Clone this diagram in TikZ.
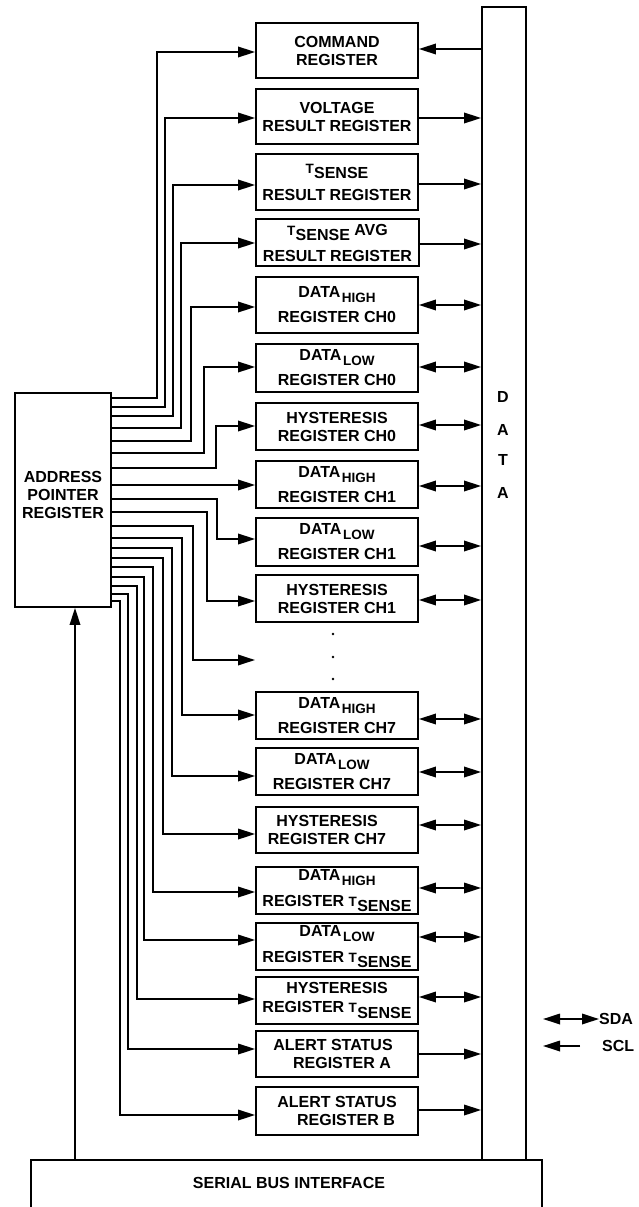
\documentclass[tikz,border=0pt]{standalone}
\usepackage{fontspec}
\setmainfont{Liberation Sans}
\usetikzlibrary{arrows.meta}
\newcommand{\lowsub}[1]{\kern1.5pt\raisebox{-5pt}{\fontsize{13.5}{13.5}\selectfont #1}}
\newcommand{\tsense}{{\fontsize{13.5}{13.5}\selectfont T}\kern0.3pt\raisebox{-5.5pt}{SENSE}}
\begin{document}
\begin{tikzpicture}[x=1pt,y=-1pt,
  every node/.style={font=\fontsize{16}{18}\selectfont\bfseries, inner sep=0pt},
  reg/.style={draw, line width=1.8pt, minimum width=162pt, align=center},
  blk/.style={draw, line width=1.8pt},
  wire/.style={line width=1.8pt},
  arr/.style={wire, -{Triangle[length=17pt,width=10.5pt]}},
  darr/.style={wire, {Triangle[length=17pt,width=10.5pt]}-{Triangle[length=17pt,width=10.5pt]}},
  dotn/.style={circle, fill, minimum size=2.8pt}
]
\useasboundingbox (0,0) rectangle (639,1207);
\clip (0,0) rectangle (639,1207);

% registers
\node[reg, minimum height=55pt] (cmd) at (337,50.5) {COMMAND\\REGISTER};
\node[reg, minimum height=55pt] (volt) at (337,116.5) {VOLTAGE\\RESULT REGISTER};
\node[reg, minimum height=56pt] (ts) at (337,182) {\tsense\\[9pt]RESULT REGISTER};
\node[reg, minimum height=47pt, minimum width=163pt] (avg) at (337.5,242.5) {\tsense{} AVG\\[8pt]RESULT REGISTER};
\node[reg, minimum height=56pt] (dh0) at (337,305) {DATA\lowsub{HIGH}\\[7pt]REGISTER CH0};
\node[reg, minimum height=48pt] (dl0) at (337,368) {DATA\lowsub{LOW}\\[7pt]REGISTER CH0};
\node[reg, minimum height=47pt] (hy0) at (337,426.5) {HYSTERESIS\\REGISTER CH0};
\node[reg, minimum height=47pt] (dh1) at (337,484.5) {DATA\lowsub{HIGH}\\[7pt]REGISTER CH1};
\node[reg, minimum height=48pt] (dl1) at (337,542) {DATA\lowsub{LOW}\\[7pt]REGISTER CH1};
\node[reg, minimum height=47pt] (hy1) at (337,598.5) {HYSTERESIS\\REGISTER CH1};
\node[reg, minimum height=47pt] (dh7) at (337,715.5) {DATA\lowsub{HIGH}\\[7pt]REGISTER CH7};
\node[reg, minimum height=47pt] (dl7) at (337,771.5) {DATA\lowsub{LOW}\hspace*{10pt}\\[7pt]REGISTER CH7\hspace*{10pt}};
\node[reg, minimum height=46pt] (hy7) at (337,830) {HYSTERESIS\hspace*{20pt}\\REGISTER CH7\hspace*{20pt}};
\node[reg, minimum height=47pt] (dhts) at (337,890.5) {DATA\lowsub{HIGH}\\[8pt]REGISTER \tsense};
\node[reg, minimum height=47pt] (dlts) at (337,946.5) {DATA\lowsub{LOW}\\[8pt]REGISTER \tsense};
\node[reg, minimum height=47pt] (hyts) at (337,1000.5) {HYSTERESIS\\[1pt]REGISTER \tsense};
\node[reg, minimum height=46pt] (ala) at (337,1054) {\hspace*{-8pt}ALERT STATUS\\\hspace*{10pt}REGISTER A};
\node[reg, minimum height=48pt] (alb) at (337,1111) {ALERT STATUS\\\hspace*{18pt}REGISTER B};

% dots
\node[dotn] (dot1) at (333,634) {};
\node[dotn] (dot2) at (333,657) {};
\node[dotn] (dot3) at (333,679) {};
\coordinate (dotend) at (255,660);

% address pointer register
\node[blk, minimum width=96pt, minimum height=214pt, align=center] (apr) at (63,500) {ADDRESS\\POINTER\\REGISTER\\[-8pt]};

% data bus
\node[blk, minimum width=44pt, minimum height=1153pt] (bus) at (504,583.5) {};
\node (bd1) at (503,397) {D};
\node (bd2) at (503,430) {A};
\node (bd3) at (503,460) {T};
\node (bd4) at (503,493) {A};

% serial bus interface
\node[blk, minimum width=511pt, minimum height=80pt] (sbi) at (286.5,1200) {};
\node (sbit) at (289,1183) {SERIAL BUS INTERFACE};
\draw[arr] (sbi.north -| 75,0) -- (apr.south -| 75,0);

% address pointer outputs
\draw[arr] (apr.east |- 0,398) -| (157,52) -- (cmd.west |- 0,52);
\draw[arr] (apr.east |- 0,407) -| (165,118) -- (volt.west |- 0,118);
\draw[arr] (apr.east |- 0,416) -| (173,185) -- (ts.west |- 0,185);
\draw[arr] (apr.east |- 0,428) -| (181,243) -- (avg.west |- 0,243);
\draw[arr] (apr.east |- 0,441) -| (191,307) -- (dh0.west |- 0,307);
\draw[arr] (apr.east |- 0,453) -| (204,367) -- (dl0.west |- 0,367);
\draw[arr] (apr.east |- 0,468) -| (216,426) -- (hy0.west |- 0,426);
\draw[arr] (apr.east |- 0,485) -- (dh1.west |- 0,485);
\draw[arr] (apr.east |- 0,499) -| (217,539) -- (dl1.west |- 0,539);
\draw[arr] (apr.east |- 0,512) -| (207,601) -- (hy1.west |- 0,601);
\draw[arr] (apr.east |- 0,526) -| (193,660) -- (dotend);
\draw[arr] (apr.east |- 0,538) -| (182,715) -- (dh7.west |- 0,715);
\draw[arr] (apr.east |- 0,548) -| (172,776) -- (dl7.west |- 0,776);
\draw[arr] (apr.east |- 0,558) -| (163,834) -- (hy7.west |- 0,834);
\draw[arr] (apr.east |- 0,567) -| (153,892) -- (dhts.west |- 0,892);
\draw[arr] (apr.east |- 0,577) -| (144,940) -- (dlts.west |- 0,940);
\draw[arr] (apr.east |- 0,586) -| (137,999) -- (hyts.west |- 0,999);
\draw[arr] (apr.east |- 0,594) -| (128,1049) -- (ala.west |- 0,1049);
\draw[arr] (apr.east |- 0,601) -| (120,1115) -- (alb.west |- 0,1115);

% data bus connections
\draw[arr] (bus.west |- 0,49) -- (cmd.east |- 0,49);
\draw[arr] (volt.east |- 0,118) -- (bus.west |- 0,118);
\draw[arr] (ts.east |- 0,184) -- (bus.west |- 0,184);
\draw[arr] (avg.east |- 0,244) -- (bus.west |- 0,244);
\draw[darr] (dh0.east |- 0,305) -- (bus.west |- 0,305);
\draw[darr] (dl0.east |- 0,367) -- (bus.west |- 0,367);
\draw[darr] (hy0.east |- 0,425) -- (bus.west |- 0,425);
\draw[darr] (dh1.east |- 0,486) -- (bus.west |- 0,486);
\draw[darr] (dl1.east |- 0,546) -- (bus.west |- 0,546);
\draw[darr] (hy1.east |- 0,600) -- (bus.west |- 0,600);
\draw[darr] (dh7.east |- 0,719) -- (bus.west |- 0,719);
\draw[darr] (dl7.east |- 0,772) -- (bus.west |- 0,772);
\draw[darr] (hy7.east |- 0,825) -- (bus.west |- 0,825);
\draw[darr] (dhts.east |- 0,888) -- (bus.west |- 0,888);
\draw[darr] (dlts.east |- 0,937) -- (bus.west |- 0,937);
\draw[darr] (hyts.east |- 0,997) -- (bus.west |- 0,997);
\draw[arr] (ala.east |- 0,1054) -- (bus.west |- 0,1054);
\draw[arr] (alb.east |- 0,1110) -- (bus.west |- 0,1110);

% legend
\node[anchor=west] (sda) at (599,1019) {SDA};
\coordinate (sdaL) at (543,1019);
\draw[darr] (sdaL) -- (sda.west);
\node[anchor=west] (scl) at (602,1046) {SCL};
\coordinate (sclR) at (580,1046);
\coordinate (sclL) at (543,1046);
\draw[arr] (sclR) -- (sclL);
\end{tikzpicture}
\end{document}
